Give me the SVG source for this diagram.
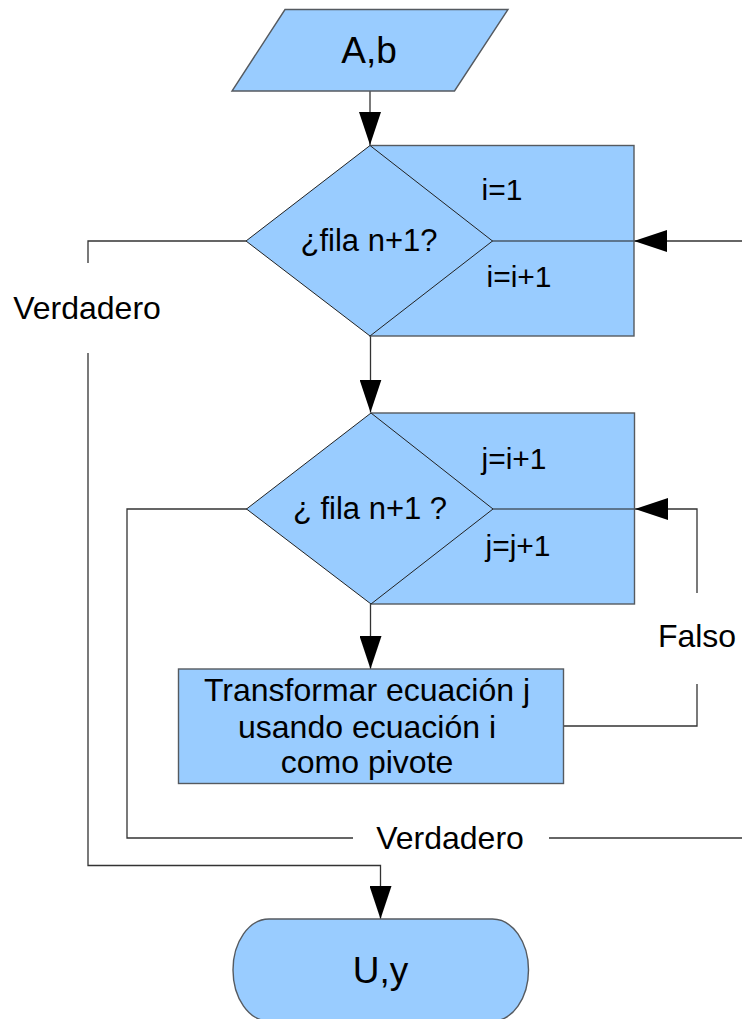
<svg xmlns="http://www.w3.org/2000/svg" width="742" height="1019" viewBox="0 0 742 1019">
  <defs>
    <style>
      .shape { fill: #99ccff; stroke: #555a60; stroke-width: 1.4; }
      .dia { fill: #99ccff; stroke: #222; stroke-width: 1; }
      .sep { stroke: #4a5a6a; stroke-width: 1.4; fill: none; }
      .wire { fill: none; stroke: #333; stroke-width: 1.3; }
      .lbl { font-family: "Liberation Sans", Arial, sans-serif; font-size: 31px; fill: #000; text-anchor: middle; }
      .wide { font-size: 32px; }
      .big { font-size: 37px; }
      .small { font-size: 30px; }
    </style>
    <marker id="arrow" markerUnits="userSpaceOnUse" viewBox="0 0 33 22" markerWidth="33" markerHeight="22" refX="33" refY="11" orient="auto">
      <path d="M0,0 L33,11 L0,22 Z" fill="#000"/>
    </marker>
  </defs>

  <rect width="742" height="1019" fill="#fff"/>

  <!-- connectors -->
  <g id="connectors">
    <path class="wire" d="M370,91 V145" marker-end="url(#arrow)"/>
    <path class="wire" d="M742,241 H634" marker-end="url(#arrow)"/>
    <path class="wire" d="M370.5,336 V412.5" marker-end="url(#arrow)"/>
    <path class="wire" d="M370.5,604 V669" marker-end="url(#arrow)"/>
    <!-- outer loop exit -->
    <path class="wire" d="M246,241 H88 V263"/>
    <path class="wire" d="M88,353 V865.5 H380.5 V919" marker-end="url(#arrow)"/>
    <!-- inner loop exit -->
    <path class="wire" d="M247,509 H127 V838 H353"/>
    <path class="wire" d="M549,838 H742"/>
    <!-- inner loop return -->
    <path class="wire" d="M563,726 H697 V684"/>
    <path class="wire" d="M697,593 V509 H635" marker-end="url(#arrow)"/>
  </g>

  <!-- input data -->
  <g id="input">
    <polygon class="shape" points="285,9.5 508,9.5 454.5,91 232,91"/>
    <text class="lbl big" x="369" y="63">A,b</text>
  </g>

  <!-- outer loop: i -->
  <g id="loop-i">
    <rect class="shape" x="370" y="145.5" width="264" height="190.5"/>
    <line class="sep" x1="492" y1="241" x2="634" y2="241"/>
    <polygon class="dia" points="370,145.5 492.5,241 370,336 246,241"/>
    <text class="lbl" x="369" y="251">¿fila n+1?</text>
    <text class="lbl small" x="502" y="200">i=1</text>
    <text class="lbl small" x="519" y="287">i=i+1</text>
  </g>

  <!-- inner loop: j -->
  <g id="loop-j">
    <rect class="shape" x="371" y="413" width="263.5" height="191"/>
    <line class="sep" x1="493" y1="509" x2="634.5" y2="509"/>
    <polygon class="dia" points="371,413 493,509 371,604 246.5,509"/>
    <text class="lbl" x="370" y="519">¿ fila n+1 ?</text>
    <text class="lbl small" x="514" y="469">j=i+1</text>
    <text class="lbl small" x="518" y="556">j=j+1</text>
  </g>

  <!-- row operation -->
  <g id="transform">
    <rect class="shape" x="178.5" y="669" width="385" height="114.5"/>
    <text class="lbl wide" x="367" y="701">Transformar ecuación j</text>
    <text class="lbl wide" x="367" y="738">usando ecuación i</text>
    <text class="lbl wide" x="367" y="773">como pivote</text>
  </g>

  <!-- branch labels -->
  <g id="labels">
    <text class="lbl wide" x="87" y="319">Verdadero</text>
    <text class="lbl wide" x="450" y="849">Verdadero</text>
    <text class="lbl wide" x="697" y="647">Falso</text>
  </g>

  <!-- output -->
  <g id="output">
    <rect class="shape" x="233" y="919" width="295.5" height="102" rx="36" ry="51"/>
    <text class="lbl big" x="380.5" y="983">U,y</text>
  </g>
</svg>
